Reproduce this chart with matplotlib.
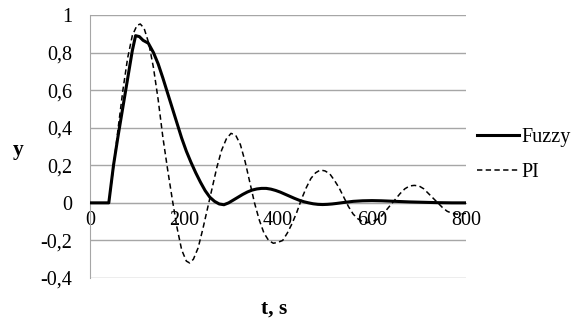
import matplotlib
matplotlib.use("Agg")
import matplotlib.pyplot as plt

plt.rcParams['font.family'] = ['Liberation Serif', 'DejaVu Serif']

# values
t_fuzzy = [0, 20, 40, 50, 60, 70, 80, 90, 97, 105, 113, 124, 135, 145, 155, 165, 175,
           185, 195, 205, 215, 225, 235, 245, 255, 265, 275, 285, 295, 305, 315, 325,
           335, 345, 355, 365, 375, 385, 395, 405, 415, 425, 435, 445, 455, 465, 475,
           485, 495, 505, 515, 525, 540, 560, 580, 600, 620, 650, 680, 710, 740, 770, 800]
y_fuzzy = [0, 0, 0, 0.2, 0.36, 0.51, 0.66, 0.81, 0.89, 0.885, 0.865, 0.85, 0.8, 0.74,
           0.665, 0.585, 0.505, 0.425, 0.345, 0.275, 0.215, 0.16, 0.11, 0.065, 0.03, 0.008,
           -0.006, -0.01, 0.0, 0.015, 0.03, 0.045, 0.058, 0.068, 0.074, 0.077, 0.077, 0.073,
           0.066, 0.057, 0.046, 0.035, 0.024, 0.014, 0.006, 0.0, -0.005, -0.008, -0.009,
           -0.008, -0.006, -0.003, 0.002, 0.008, 0.011, 0.012, 0.011, 0.008, 0.005, 0.003,
           0.001, 0.0, 0.0]

t_pi = [0, 20, 40, 50, 60, 70, 80, 90, 100, 107, 115, 125, 135, 145, 155, 165, 175, 185,
        195, 205, 212, 220, 230, 240, 250, 260, 270, 280, 290, 300, 310, 320, 330, 340,
        350, 360, 370, 380, 390, 400, 410, 420, 430, 440, 450, 460, 470, 480, 490, 500,
        510, 520, 530, 540, 550, 560, 570, 580, 590, 600, 610, 620, 630, 640, 650, 660,
        670, 680, 690, 700, 710, 720, 730, 740, 750, 760, 770, 780, 790, 800]
y_pi = [0, 0, 0, 0.19, 0.4, 0.6, 0.77, 0.89, 0.945, 0.952, 0.93, 0.85, 0.72, 0.55, 0.35,
        0.18, 0.02, -0.13, -0.25, -0.31, -0.32, -0.3, -0.24, -0.14, -0.03, 0.08, 0.19,
        0.28, 0.34, 0.37, 0.36, 0.31, 0.22, 0.11, 0.0, -0.09, -0.16, -0.2, -0.215, -0.21,
        -0.2, -0.16, -0.11, -0.05, 0.02, 0.08, 0.13, 0.16, 0.175, 0.17, 0.155, 0.12, 0.08,
        0.03, -0.02, -0.06, -0.085, -0.1, -0.105, -0.1, -0.09, -0.07, -0.04, -0.01, 0.02,
        0.05, 0.075, 0.09, 0.093, 0.09, 0.075, 0.05, 0.025, 0.0, -0.025, -0.045, -0.055,
        -0.06, -0.06, -0.055]

x_ticks = [0, 200, 400, 600, 800]
y_ticks = [-0.4, -0.2, 0, 0.2, 0.4, 0.6, 0.8, 1]
y_labels = ['-0,4', '-0,2', '0', '0,2', '0,4', '0,6', '0,8', '1']

W, H = 577, 326
fig = plt.figure(figsize=(W / 100, H / 100), dpi=100)
ax = fig.add_axes([90 / W, 1 - 278 / H, (466 - 90) / W, (278 - 15) / H])

grid_col = '#a6a6a6'
ax.plot(t_fuzzy, y_fuzzy, color='black', lw=2.2, label='Fuzzy', zorder=3)
ax.plot(t_pi, y_pi, color='black', lw=1.1, dashes=(3.5, 2.2), label='PI', zorder=3)

ax.set_xlim(0, 800)
ax.set_ylim(-0.4, 1)
ax.set_xticks(x_ticks)
ax.set_yticks(y_ticks)
ax.set_yticklabels(y_labels)
ax.yaxis.grid(True, color=grid_col, lw=1)
ax.set_axisbelow(True)

for s in ['top', 'right']:
    ax.spines[s].set_visible(False)
ax.spines['bottom'].set_position(('data', 0))
ax.spines['bottom'].set_color(grid_col)
ax.spines['left'].set_color(grid_col)
ax.tick_params(axis='both', length=0, labelsize=14.5)
ax.tick_params(axis='y', pad=13)
ax.tick_params(axis='x', pad=6)

fig.text(18 / W, 1 - 150 / H, 'y', fontsize=15.5, fontweight='bold', ha='center', va='center')
fig.text(274 / W, 1 - 309 / H, 't, s', fontsize=15.5, fontweight='bold', ha='center', va='center')

ax.legend(loc='center left', bbox_to_anchor=(469 / W, 1 - 155 / H), bbox_transform=fig.transFigure,
          frameon=False, fontsize=14.5, handlelength=2.1, handletextpad=0.12,
          labelspacing=0.8, borderaxespad=0)

fig.savefig('out.png', dpi=100)
